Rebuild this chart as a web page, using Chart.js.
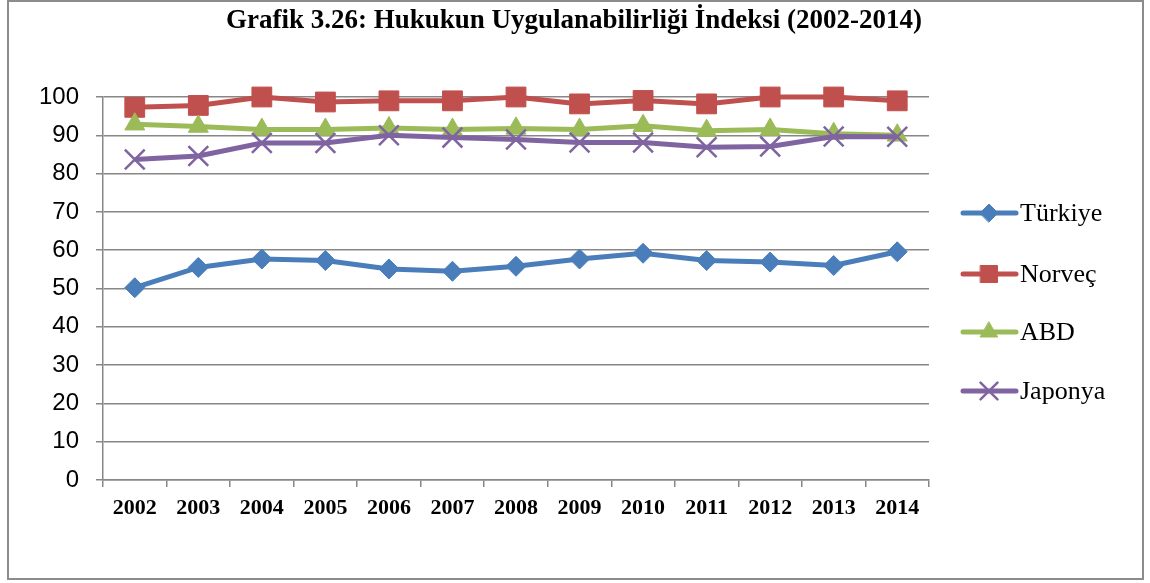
<!DOCTYPE html>
<html lang="tr">
<head>
<meta charset="utf-8">
<title>Hukukun Uygulanabilirliği İndeksi (2002-2014)</title>
<script src="https://cdn.jsdelivr.net/npm/chart.js@4/dist/chart.umd.min.js"></script>
<style>
  html, body { margin: 0; padding: 0; background: #ffffff; }
  #wrap { width: 1150px; height: 583px; position: relative; }
</style>
</head>
<body>
<div id="wrap"><canvas id="chart" width="1150" height="583"></canvas></div>
<script>
// Yıllar ve ülke endeks değerleri
const years = ['2002','2003','2004','2005','2006','2007','2008','2009','2010','2011','2012','2013','2014'];
const turkiye = [50.2, 55.5, 57.7, 57.3, 55.1, 54.5, 55.8, 57.7, 59.2, 57.3, 56.9, 56.0, 59.6];
const norvec  = [97.3, 97.8, 100, 98.7, 99.0, 99.0, 100, 98.2, 99.1, 98.2, 100, 100, 99.0];
const abd     = [92.9, 92.3, 91.5, 91.5, 91.9, 91.5, 91.8, 91.5, 92.5, 91.2, 91.5, 90.4, 90.0];
const japonya = [83.7, 84.6, 88.0, 88.0, 90.0, 89.4, 88.9, 88.1, 88.1, 86.9, 87.1, 89.7, 89.6];
const yTicks  = [0, 10, 20, 30, 40, 50, 60, 70, 80, 90, 100];

const titleText = 'Grafik 3.26: Hukukun Uygulanabilirliği İndeksi (2002-2014)';
const gridGray = '#878787';

// Çerçeve, başlık ve sağdaki gösterge
const decor = {
  id: 'decor',
  beforeDraw(chart) {
    const ctx = chart.ctx;
    ctx.save();
    ctx.fillStyle = '#ffffff';
    ctx.fillRect(0, 0, chart.width, chart.height);
    ctx.restore();
  },
  afterDraw(chart) {
    const ctx = chart.ctx;
    ctx.save();
    // dış çerçeve
    ctx.strokeStyle = '#8c8c8c';
    ctx.lineWidth = 2;
    ctx.strokeRect(8, 1, 1135, 578);
    // başlık
    ctx.fillStyle = '#000000';
    ctx.font = 'bold 27px "Liberation Serif", "Times New Roman", serif';
    ctx.textAlign = 'center';
    ctx.textBaseline = 'middle';
    ctx.fillText(titleText, 574, 21);
    // gösterge
    const rows = [213, 274, 332, 391];
    chart.data.datasets.forEach((ds) => {
      const y = rows[ds.legendIndex];
      ctx.strokeStyle = ds.borderColor;
      ctx.lineWidth = 5;
      ctx.lineCap = 'round';
      ctx.beginPath();
      ctx.moveTo(963, y);
      ctx.lineTo(1016, y);
      ctx.stroke();
      ctx.fillStyle = ds.pointBackgroundColor;
      ctx.strokeStyle = ds.pointBorderColor;
      ctx.lineWidth = ds.pointBorderWidth;
      Chart.helpers.drawPoint(ctx, {
        pointStyle: ds.pointStyle,
        rotation: 0,
        radius: ds.legendRadius,
        borderWidth: ds.pointBorderWidth
      }, 989, y);
      ctx.fillStyle = '#000000';
      ctx.font = '26px "Liberation Serif", "Times New Roman", serif';
      ctx.textAlign = 'left';
      ctx.textBaseline = 'middle';
      ctx.fillText(ds.label, 1020, y + 1);
    });
    ctx.restore();
  }
};

function series(label, values, color, style, radius, legendRadius, borderW, legendIndex, order) {
  return {
    label: label,
    data: values,
    borderColor: color,
    backgroundColor: color,
    borderWidth: 5,
    pointStyle: style,
    pointRadius: radius,
    pointHoverRadius: radius,
    pointBackgroundColor: color,
    pointBorderColor: color,
    pointBorderWidth: borderW,
    legendRadius: legendRadius,
    legendIndex: legendIndex,
    order: order,
    tension: 0,
    clip: false
  };
}

new Chart(document.getElementById('chart'), {
  type: 'line',
  data: {
    labels: years,
    datasets: [
      series('Türkiye', turkiye, '#4A7EBB', 'rectRot', 10, 9, 1, 0, 3),
      series('Norveç',  norvec,  '#C0504D', 'rect', 14, 12, 1, 1, 2),
      series('ABD',     abd,     '#9BBB59', 'triangle', 11.5, 10, 1, 2, 1),
      series('Japonya', japonya, '#8064A2', 'crossRot', 14, 12, 2.5, 3, 0)
    ]
  },
  options: {
    responsive: false,
    animation: false,
    devicePixelRatio: 1,
    layout: { padding: { top: 97, left: 0, right: 221, bottom: 43 } },
    plugins: {
      legend: { display: false },
      title: { display: false },
      tooltip: { enabled: false }
    },
    scales: {
      x: {
        type: 'category',
        offset: true,
        afterFit(scale) { scale.height = 60; },
        grid: {
          display: true,
          offset: true,
          drawOnChartArea: false,
          drawTicks: true,
          tickLength: 7,
          color: gridGray,
          lineWidth: 1.5
        },
        border: { display: true, color: gridGray, width: 1.5 },
        ticks: {
          color: '#000000',
          padding: 8,
          maxRotation: 0,
          autoSkip: false,
          font: { family: '"Liberation Serif", "Times New Roman", serif', size: 22, weight: 'bold' }
        }
      },
      y: {
        min: 0,
        max: 100,
        afterFit(scale) { scale.width = 103; },
        afterBuildTicks(scale) { scale.ticks = yTicks.map(v => ({ value: v })); },
        grid: {
          display: true,
          drawTicks: true,
          tickLength: 7,
          color: gridGray,
          lineWidth: 1.5
        },
        border: { display: true, color: gridGray, width: 1.5 },
        ticks: {
          color: '#000000',
          padding: 17,
          font: { family: '"Liberation Sans", Arial, sans-serif', size: 24 }
        }
      }
    }
  },
  plugins: [decor]
});
</script>
</body>
</html>
